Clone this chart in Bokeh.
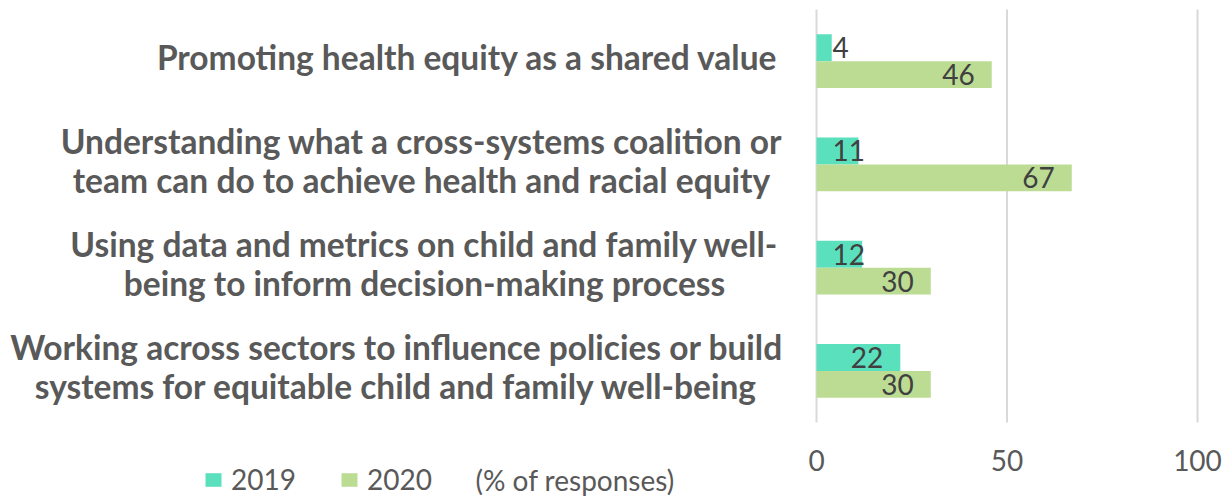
from bokeh.plotting import figure
from bokeh.models import Range1d, FixedTicker, Label, Legend, LegendItem, ColumnDataSource
from bokeh.embed import file_html
from bokeh.resources import INLINE
from bokeh.core.properties import value

# ---- data ----
categories = [
    "Promoting health equity as a shared value",
    "Understanding what a cross-systems coalition or\nteam can do to achieve health and racial equity",
    "Using data and metrics on child and family well-\nbeing to inform decision-making process",
    "Working across sectors to influence policies or build\nsystems for equitable child and family well-being",
]
values_2019 = [4, 11, 12, 22]
values_2020 = [46, 67, 30, 30]
series_names = ["2019", "2020"]
x_ticks = [0, 50, 100]
note_text = "(% of responses)"

# ---- style / layout ----
W, H = 1225, 496
PL, PR, PT, PB = 816, 1197, 9, 422          # plotting area in canvas px
px_x = (PR - PL) / 100.0
n = len(categories)
px_y = (PB - PT) / n
col19, col20 = "#5BE0BE", "#BCDC94"
grid_col = "#D9D9D9"
txt_gray = "#595959"
lbl_dark = "#404040"
bar_h = 0.26
label_centers_px = [467, 421, 424, 396]   # horizontal centres of category text blocks
label_lift_px = 4
FONT = "Lato"

ypos = [n - 1 - i for i in range(n)]
y_lo, y_hi = -0.5, n - 0.5

p = figure(width=W, height=H,
           x_range=Range1d(-PL / px_x, 100 + (W - PR) / px_x),
           y_range=Range1d(y_lo - (H - PB) / px_y, y_hi + PT / px_y),
           min_border=0, min_border_left=0, min_border_right=0, min_border_top=0, min_border_bottom=0,
           y_axis_location=None, toolbar_location=None, output_backend="svg",
           outline_line_color=None, background_fill_color="white", border_fill_color="white")

# gridlines at the tick values, limited to the plotting area
p.segment(x0=x_ticks, x1=x_ticks, y0=[y_lo] * len(x_ticks), y1=[y_hi] * len(x_ticks),
          line_color=grid_col, line_width=2)
p.xgrid.visible = False
p.ygrid.visible = False

src19 = ColumnDataSource(dict(y=[y + bar_h / 2 for y in ypos], v=values_2019))
src20 = ColumnDataSource(dict(y=[y - bar_h / 2 for y in ypos], v=values_2020))
r19 = p.hbar(y="y", left=0, right="v", height=bar_h, source=src19, fill_color=col19, line_color=None)
r20 = p.hbar(y="y", left=0, right="v", height=bar_h, source=src20, fill_color=col20, line_color=None)

# data labels: inside end, or just past the axis when the bar is too short
pad_end = 17 / px_x
pad_start = 16 / px_x
digit_w = 16 / px_x
rx, ry, rt, lx, ly, lt = [], [], [], [], [], []
for vals, off in ((values_2019, bar_h / 2), (values_2020, -bar_h / 2)):
    for y, v in zip(ypos, vals):
        s = str(v)
        if v - pad_end - len(s) * digit_w >= pad_start:
            rx.append(v - pad_end); ry.append(y + off); rt.append(s)
        else:
            lx.append(pad_start); ly.append(y + off); lt.append(s)
common = dict(text_font=value(FONT), text_font_size="28px", text_color=lbl_dark, text_baseline="middle")
p.text(x=rx, y=ry, text=rt, text_align="right", **common)
p.text(x=lx, y=ly, text=lt, text_align="left", **common)

# x axis drawn at the bottom of the plotting area
ax = p.xaxis[0]
ax.fixed_location = y_lo
ax.ticker = FixedTicker(ticks=x_ticks)
ax.axis_line_color = None
ax.major_tick_line_color = None
ax.minor_tick_line_color = None
ax.major_label_text_font = FONT
ax.major_label_text_font_size = "28px"
ax.major_label_text_color = txt_gray
ax.major_label_standoff = 21

# category labels
for cat, y, cx in zip(categories, ypos, label_centers_px):
    p.add_layout(Label(x=cx, x_units="screen", y=y + label_lift_px / px_y, y_units="data", text=cat,
                       text_align="center", text_baseline="middle",
                       text_font=FONT, text_font_style="bold", text_font_size="33.5px",
                       text_color=txt_gray, text_line_height=0.98))

# legend
legend = Legend(items=[LegendItem(label=series_names[0], renderers=[r19]),
                       LegendItem(label=series_names[1], renderers=[r20])],
                orientation="horizontal", location=(203, 0),
                glyph_width=20, glyph_height=17, label_standoff=8, spacing=43,
                padding=0, margin=0, border_line_color=None, background_fill_alpha=0,
                label_text_font=FONT, label_text_font_size="28px", label_text_color=txt_gray)
p.add_layout(legend, "center")

p.add_layout(Label(x=475, x_units="screen", y=y_lo - (479 - PB) / px_y, y_units="data",
                   text=note_text, text_align="left", text_baseline="middle",
                   text_font=FONT, text_font_size="28px", text_color=txt_gray))

open("out.html", "w").write(file_html(p, INLINE))
